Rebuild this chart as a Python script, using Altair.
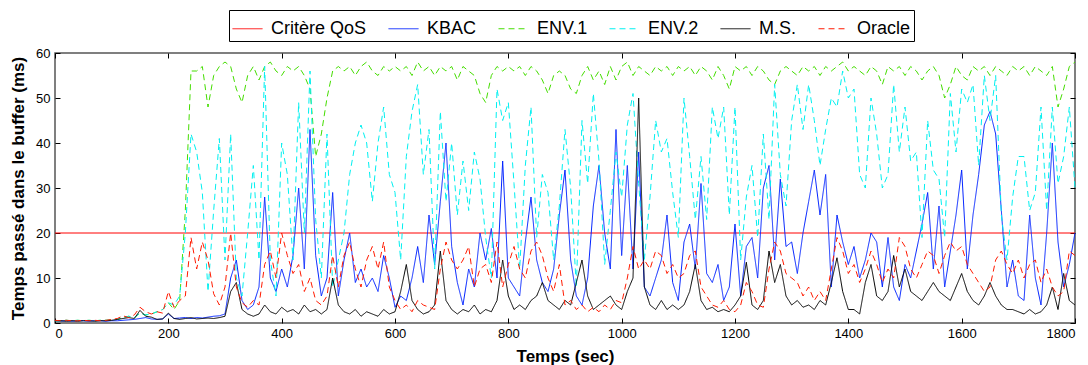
import altair as alt
import pandas as pd

# time axis (seconds), one sample every 10 s
t = list(range(0, 1801, 10))

series_names = ["Critère QoS", "KBAC", "ENV.1", "ENV.2", "M.S.", "Oracle"]
series_colors = ["#ff0000", "#0022ff", "#44dd00", "#00f0f0", "#000000", "#ff1a00"]
series_dashes = [[1, 0], [1, 0], [6, 4], [6, 4], [1, 0], [6, 4]]

qos_t = [0, 1800]
qos_v = [20, 20]

kbac = [
    0.5, 0.4, 0.5, 0.4, 0.5, 0.5, 0.4, 0.5, 0.5, 0.4, 0.5,
    0.5, 0.6, 0.7, 0.8, 1.0, 1.2, 0.9, 0.8, 0.9, 2.0,
    1.0, 1.1, 1.2, 1.0, 1.2, 1.1, 1.3, 1.5, 1.6, 2.0,
    10, 14, 5, 3, 4, 8, 28, 10, 7, 12,
    8, 15, 30, 12, 43, 15, 6, 10, 29, 6,
    14, 20, 9, 12, 8, 10, 7, 15, 10, 3.5,
    6, 5, 10, 17, 9, 24, 13, 27, 40, 17,
    9, 4, 12, 8, 20, 14, 21, 10, 36, 10,
    8, 6, 18, 28, 14, 9, 7, 12, 24, 34,
    14, 6, 4, 10, 26, 35, 20, 12, 43, 15,
    35, 12, 38, 8, 6, 10, 14, 24, 9, 5,
    18, 22, 12, 31, 11, 9, 13, 5, 8, 22,
    6, 17, 19, 10, 30, 35, 14, 32, 17, 18,
    11, 20, 27, 34, 24, 33, 8, 24, 18, 13,
    17, 10, 14, 20, 18, 8, 19, 8, 5, 13,
    10, 16, 22, 29, 12, 26, 8, 16, 24, 34,
    12, 24, 33, 44, 47, 42, 25, 8, 14, 6,
    5, 24, 10, 4, 20, 40, 18, 8, 13, 20,
]

env1 = [
    0.5, 0.5, 0.6, 0.5, 0.6, 0.5, 0.6, 0.5, 0.6, 0.6, 0.7,
    0.8, 1.2, 1.5, 1.2, 2.2, 1.8, 2.0, 2.5, 3.0, 4.5,
    3, 5, 25, 56, 56, 57, 48, 55, 57, 58,
    57, 52, 49, 55, 57, 54, 57, 58, 56, 55,
    57, 56, 57, 55, 52, 37, 42, 50, 56, 57,
    56, 57, 55, 57, 58, 56, 55, 57, 56, 57,
    56, 57, 55, 58, 56, 57, 55, 57, 56, 57,
    54, 57, 56, 55, 51, 49, 55, 57, 56, 57,
    56, 57, 55, 57, 56, 54, 51, 55, 56, 55,
    52, 51, 55, 57, 54, 56, 53, 57, 54, 57,
    58, 55, 57, 56, 55, 57, 56, 57, 55, 57,
    56, 57, 55, 57, 56, 54, 57, 55, 52, 57,
    56, 57, 55, 57, 56, 54, 53, 56, 57, 56,
    55, 57, 56, 57, 55, 57, 56, 57, 58, 56,
    57, 56, 55, 57, 56, 53, 57, 56, 57, 55,
    57, 56, 54, 56, 57, 55, 50, 53, 57, 55,
    54, 57, 56, 57, 55, 57, 56, 55, 57, 56,
    57, 55, 57, 56, 55, 57, 48, 52, 57, 58,
]

env2 = [
    0.5, 0.5, 0.6, 0.5, 0.6, 0.5, 0.6, 0.5, 0.6, 0.6, 0.7,
    0.8, 1.2, 1.5, 1.2, 2.2, 1.8, 2.0, 2.5, 3.0, 4.5,
    4, 6, 20, 42, 38, 29, 7, 25, 41, 14,
    42, 10, 6, 20, 35, 14, 57, 14, 6, 40,
    33, 14, 49, 20, 56, 23, 10, 42, 8, 14,
    20, 33, 40, 44, 40, 27, 40, 48, 33, 29,
    14, 37, 47, 53, 33, 43, 12, 47, 27, 40,
    24, 36, 25, 38, 32, 19, 10, 52, 45, 49,
    31, 12, 35, 48, 19, 33, 29, 14, 26, 43,
    30, 8, 45, 31, 51, 36, 13, 25, 38, 28,
    44, 51, 31, 14, 28, 45, 38, 41, 29, 19,
    50, 37, 23, 37, 23, 48, 41, 48, 24, 48,
    14, 28, 35, 19, 42, 23, 53, 33, 26, 45,
    53, 43, 53, 45, 35, 43, 50, 48, 56, 50,
    52, 33, 30, 50, 42, 30, 33, 53, 38, 48,
    36, 38, 19, 45, 34, 32, 19, 51, 38, 52,
    49, 53, 35, 55, 45, 55, 24, 14, 28, 37,
    37, 25, 29, 48, 25, 48, 31, 37, 48, 30,
]

ms = [
    0.5, 0.5, 0.4, 0.5, 0.4, 0.5, 0.5, 0.4, 0.5, 0.5, 0.6,
    0.8, 1.0, 1.2, 1.0, 2.8, 1.5, 1.3, 0.8, 0.9, 2.2,
    1.0, 0.8, 1.0, 1.2, 0.9, 1.0, 1.1, 1.0, 1.2, 1.5,
    7, 9, 3, 2, 1.5, 2, 4, 2.5, 2, 3.5,
    2.5, 3, 2, 4, 2.5, 3, 2, 3, 10, 4,
    2.5, 2, 3, 1.5, 2.5, 2, 1.5, 3, 2, 2.5,
    7, 13, 5, 3, 2, 2.5, 4, 16, 5, 3,
    2, 3, 2.5, 4, 2, 3, 2.5, 5, 14, 6,
    3, 4, 3, 5, 6, 9, 5, 4, 3, 5,
    4, 9, 14, 6, 3, 4, 5, 6, 4, 3,
    7, 10, 50, 8, 4, 3, 5, 3, 4, 3,
    4, 7, 13, 5, 3, 3.5, 2.5, 3, 2.5, 4,
    6, 13.5, 4, 3, 5, 16, 9, 13, 6, 4,
    5, 3.5, 4, 3, 5, 4, 9, 14.5, 7, 3,
    3, 2, 9, 13, 6, 5, 7, 15, 8, 12,
    7, 6, 5, 7, 9, 7, 6, 5, 8, 11,
    7, 5, 4, 6, 9, 6, 4, 3, 3, 2.5,
    2, 3, 2, 2.5, 4, 8, 3, 11, 5, 4,
]

oracle = [
    0.6, 0.5, 0.6, 0.5, 0.5, 0.6, 0.5, 0.6, 0.5, 0.6, 0.8,
    1.0, 1.6, 1.2, 1.8, 3.5, 2.5, 2.0, 2.5, 2.2, 7.0,
    3.5, 5.0, 6.0, 19, 12, 18, 14, 6.5, 4, 8,
    20, 8, 4.5, 3.5, 5, 4, 13, 16, 10, 20,
    15, 11, 13, 7, 10, 5, 4, 6, 15, 8,
    15, 18, 12, 8, 14, 17, 12, 18, 8, 5,
    3, 4, 2.5, 5, 4, 3.5, 3, 12, 18, 14,
    12, 14, 17, 8, 12, 13, 9, 18, 8, 13,
    17, 12, 10, 16, 18, 15, 10, 7, 13, 4,
    5, 3, 4, 2.5, 3.5, 2.5, 4, 3, 5, 4.5,
    10, 17, 12, 14, 12, 16, 15, 11, 13, 10,
    11, 15, 16, 8, 6, 4, 3.5, 5, 3, 2.5,
    4, 9, 7, 4, 3.5, 12, 18, 16, 11, 10,
    9, 6, 8, 5, 7, 5, 12, 19, 16, 11,
    13, 9, 12, 16, 13, 9, 12, 10, 19, 17,
    12, 10, 13, 16, 15, 11, 15, 18, 16, 17,
    13, 11, 9, 7, 8, 14, 16, 13, 11, 14,
    10, 13, 14, 9, 12, 8, 6, 7, 16, 15,
]

x_ticks = [0, 200, 400, 600, 800, 1000, 1200, 1400, 1600, 1800]
y_ticks = [0, 10, 20, 30, 40, 50, 60]

W, H = 1020, 270

rows = []
for tt, vv in zip(qos_t, qos_v):
    rows.append({"t": tt, "v": vv, "series": "Critère QoS"})
for name, vals in [("KBAC", kbac), ("ENV.1", env1), ("ENV.2", env2),
                   ("M.S.", ms), ("Oracle", oracle)]:
    for tt, vv in zip(t, vals):
        rows.append({"t": tt, "v": vv, "series": name})
df = pd.DataFrame(rows)

FONT = "Liberation Sans"

xscale = alt.Scale(domain=[0, 1800], nice=False, zero=False)
yscale = alt.Scale(domain=[0, 60], nice=False, zero=False)
cscale = alt.Scale(domain=series_names, range=series_colors)
dscale = alt.Scale(domain=series_names, range=series_dashes)
leg = alt.Legend(title=None)

main_x = alt.Axis(values=x_ticks, format="d", title="Temps (sec)", ticks=False,
                  domain=False, grid=False, labelPadding=4, labelFontSize=13,
                  labelFont=FONT, labelColor="black", titleFont=FONT,
                  titleFontSize=17, titleFontWeight="bold", titleColor="black",
                  titlePadding=8)
main_y = alt.Axis(values=y_ticks, format="d", title="Temps passé dans le buffer (ms)",
                  ticks=False, domain=False, grid=False, labelPadding=5,
                  labelFontSize=13, labelFont=FONT, labelColor="black",
                  titleFont=FONT, titleFontSize=17, titleFontWeight="bold",
                  titleColor="black", titlePadding=8)


def tick_axis(values, orient, offset):
    return alt.Axis(values=values, orient=orient, offset=offset, labels=False,
                    domain=False, grid=False, ticks=True, tickSize=5,
                    tickColor="black", tickWidth=1, title="")


axes_for = {
    "Critère QoS": (main_x, main_y),
    "KBAC": (tick_axis(x_ticks, "top", -H), tick_axis(y_ticks, "right", -W)),
    "ENV.1": (tick_axis(x_ticks, "bottom", -H), tick_axis(y_ticks, "left", -W)),
}

layers = []
for name in series_names:
    ax = axes_for.get(name)
    xa = ax[0] if ax else None
    ya = ax[1] if ax else None
    layer = alt.Chart(df).transform_filter(
        alt.datum.series == name
    ).mark_line(strokeWidth=1).encode(
        x=alt.X("t:Q", scale=xscale, axis=xa),
        y=alt.Y("v:Q", scale=yscale, axis=ya),
        color=alt.Color("series:N", scale=cscale, legend=leg),
        strokeDash=alt.StrokeDash("series:N", scale=dscale, legend=leg),
    )
    layers.append(layer)

chart = alt.layer(*layers).resolve_axis(
    x="independent", y="independent"
).properties(
    width=W, height=H,
    autosize=alt.AutoSizeParams(type="none"),
    padding={"left": 47, "top": 45, "right": 5, "bottom": 42},
).configure_view(
    stroke="#555555", strokeWidth=1.5
).configure_legend(
    orient="none", legendX=174, legendY=-43, direction="horizontal",
    symbolType="stroke", symbolSize=900, symbolStrokeWidth=1,
    labelFont=FONT, labelFontSize=18, labelColor="black", labelOffset=8,
    labelLimit=300, columnPadding=19, padding=3, strokeColor="black",
    fillColor="white", cornerRadius=0,
)

chart.save("out.html", embed_options={"renderer": "svg", "actions": False})
